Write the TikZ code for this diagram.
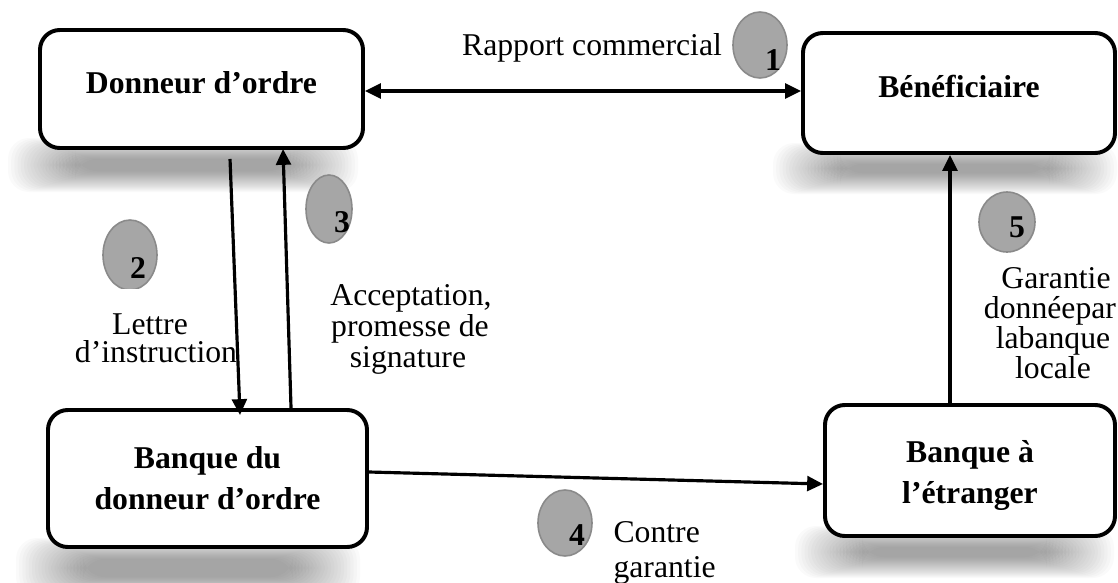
\documentclass[tikz,border=0pt]{standalone}
\usepackage{fontspec}
\setmainfont{Liberation Serif}
\usetikzlibrary{arrows.meta,calc,shapes.geometric}
\newcommand\pxu{0.3785pt}
\newcommand\softshadow[4]{%
  \foreach \i in {0,...,21}{%
    \fill[black, opacity=0.021, rounded corners=8pt] ({#1+\i*3.2},{#2+\i*1.0}) rectangle ({#3-\i*3.2},{#4-\i*1.0});
  }%
}
\tikzset{
  box/.style={draw=black, line width=1.5pt, rounded corners=7.5pt, fill=white,
    align=center, inner sep=0pt, font=\bfseries\fontsize{12}{15.5}\selectfont},
  tip/.tip={Triangle[length=6pt,width=5.6pt]},
  arr/.style={line width=1.2pt, -tip},
  darr/.style={line width=1.2pt, tip-tip},
  badge/.style={ellipse, draw={rgb,255:red,138;green,138;blue,138}, line width=0.6pt,
    fill={rgb,255:red,166;green,166;blue,166}, inner sep=0pt},
  num/.style={inner sep=0pt, font=\bfseries\fontsize{12}{13}\selectfont},
  lbl/.style={inner sep=0pt, anchor=base, font=\fontsize{12}{13}\selectfont},
}
\begin{document}
\begin{tikzpicture}[x=0.3785pt, y=-0.3785pt]
\useasboundingbox (0,0) rectangle (1118,583);

% shadows
\softshadow{8}{138}{358}{192}
\softshadow{773}{143}{1117}{194}
\softshadow{16}{538}{360}{598}
\softshadow{795}{526}{1114}{578}

% boxes
\node[box, minimum width=323*\pxu, minimum height=118*\pxu, text height=8.2pt, text depth=5.1pt]
  (do) at (201.5,89) {Donneur d’ordre};
\node[box, minimum width=312*\pxu, minimum height=120*\pxu, text height=8.2pt, text depth=5.1pt]
  (ben) at (959,93) {Bénéficiaire};
\node[box, minimum width=319*\pxu, minimum height=137*\pxu]
  (bd) at (207.5,478.5) {Banque du\\donneur d’ordre};
\node[box, minimum width=290*\pxu, minimum height=131*\pxu, text height=24.6pt, text depth=0pt]
  (be) at (970,470.5) {Banque à\\l’étranger};

% connectors
\coordinate (a1) at ($(do.east)+(0,2)$);
\draw[darr] (a1) -- (a1 -| ben.west);
\coordinate (d2s) at ($(do.south west)+(192,9)$);
\coordinate (d2e) at ($(bd.north west)+(194,7)$);
\draw[arr] (d2s) -- (d2e);
\coordinate (u3s) at ($(bd.north west)+(245,0)$);
\coordinate (u3e) at ($(do.south west)+(245,-1)$);
\draw[arr] (u3s) -- (u3e);
\coordinate (h4s) at ($(bd.east)+(0,-6.5)$);
\coordinate (h4e) at ($(be.west)+(0,13.5)$);
\draw[arr] (h4s) -- (h4e);
\coordinate (v5) at ($(be.north west)+(127,0)$);
\draw[arr] (v5) -- (v5 |- ben.south);

% badges
\node[badge, minimum width=54*\pxu, minimum height=66*\pxu] (c1) at (760,45) {};
\node[num] (n1) at (773,60) {1};
\begin{scope}
\clip (0,0) rectangle (1118,288);
\node[badge, minimum width=54*\pxu, minimum height=70*\pxu] (c2) at (130,255) {};
\end{scope}
\node[num] (n2) at (138,268) {2};
\node[badge, minimum width=46*\pxu, minimum height=68*\pxu] (c3) at (329,209) {};
\node[num] (n3) at (342,222) {3};
\node[badge, minimum width=54*\pxu, minimum height=66*\pxu] (c4) at (565,523) {};
\node[num] (n4) at (577,535) {4};
\node[badge, minimum width=56*\pxu, minimum height=60*\pxu] (c5) at (1007,222) {};
\node[num] (n5) at (1017,227) {5};

% labels
\node[lbl] (t1) at (592,55) {Rapport commercial};
\node[lbl] (t2a) at (150,334) {Lettre};
\node[lbl] (t2b) at (156,362) {d’instruction};
\node[lbl] (t3a) at (411,305) {Acceptation,};
\node[lbl] (t3b) at (410,336) {promesse de};
\node[lbl] (t3c) at (408,367) {signature};
\node[lbl] (t5a) at (1056,288) {Garantie};
\node[lbl] (t5b) at (1050,318) {donnéepar};
\node[lbl] (t5c) at (1053,348) {labanque};
\node[lbl] (t5d) at (1053,378) {locale};
\node[lbl, anchor=base west] (t4a) at (613,542) {Contre};
\node[lbl, anchor=base west] (t4b) at (613,577) {garantie};
\end{tikzpicture}
\end{document}
